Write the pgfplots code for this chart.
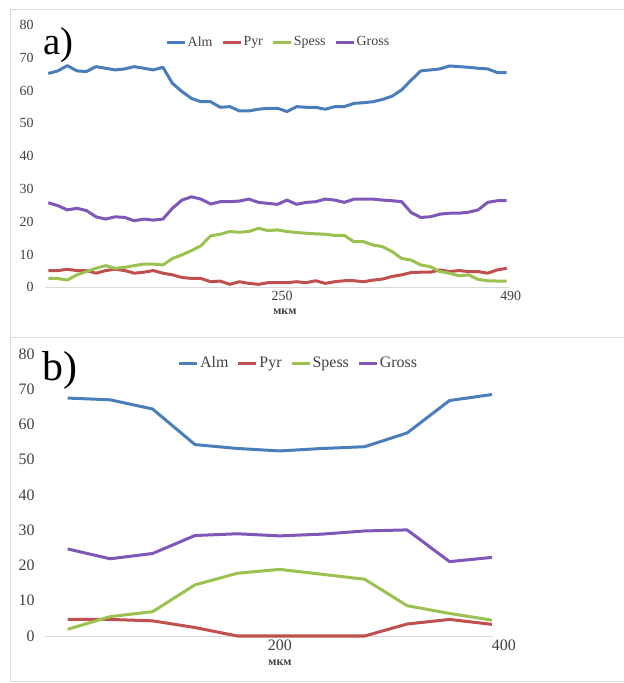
\documentclass[border=0pt]{standalone}
\usepackage{fontspec}
\setmainfont{Liberation Serif}
\usepackage{pgfplots}
\usepackage{pgfplotstable}
\pgfplotsset{compat=1.18}
\definecolor{calm}{HTML}{4A7EBB}
\definecolor{cpyr}{HTML}{C0504D}
\definecolor{cspe}{HTML}{9BC150}
\definecolor{cgro}{HTML}{7E57B8}
\definecolor{ctxt}{HTML}{404040}
\definecolor{cframe}{HTML}{D9D9D9}

\pgfplotstableread{
x Alm Pyr Spess Gross
0 65.2 5.1 2.7 25.8
10.2 66.0 5.1 2.7 24.9
20.4 67.6 5.5 2.2 23.6
30.6 66.0 5.1 3.8 24.1
40.8 65.8 5.1 4.8 23.4
51.0 67.3 4.3 5.8 21.5
61.3 66.8 5.1 6.6 20.8
71.5 66.3 5.5 5.8 21.5
81.7 66.6 5.1 6.1 21.3
91.9 67.3 4.3 6.6 20.3
102.1 66.8 4.6 7.1 20.8
112.3 66.3 5.1 7.1 20.5
122.5 67.1 4.3 6.8 20.8
132.7 62.2 3.8 8.8 24.1
142.9 59.7 3.0 9.9 26.6
153.1 57.6 2.7 11.2 27.6
163.3 56.6 2.7 12.7 26.9
173.5 56.6 1.7 15.7 25.4
183.75 54.9 1.9 16.2 26.1
194.0 55.1 0.9 17.0 26.1
204.2 53.8 1.7 16.8 26.3
214.4 53.8 1.2 17.0 26.9
224.6 54.3 0.9 18.0 25.9
234.8 54.6 1.4 17.3 25.6
245.0 54.6 1.4 17.5 25.3
255.2 53.6 1.4 17.0 26.6
265.4 55.1 1.7 16.7 25.3
275.6 54.9 1.4 16.5 25.9
285.8 54.9 2.0 16.3 26.1
296.0 54.3 1.2 16.2 26.9
306.25 55.1 1.7 15.8 26.6
316.5 55.1 2.0 15.8 25.9
326.7 56.1 2.0 13.9 26.9
336.9 56.3 1.7 13.9 26.9
347.1 56.6 2.2 12.9 26.9
357.3 57.3 2.5 12.4 26.6
367.5 58.3 3.3 10.9 26.4
377.7 60.2 3.8 8.8 26.1
387.9 63.2 4.5 8.3 22.8
398.1 66.0 4.6 6.8 21.3
408.3 66.3 4.6 6.3 21.5
418.5 66.6 5.3 4.8 22.3
428.75 67.5 4.8 4.3 22.6
439.0 67.3 5.1 3.5 22.6
449.2 67.1 4.8 3.8 22.9
459.4 66.8 4.8 2.4 23.6
469.6 66.6 4.3 2.0 25.9
479.8 65.5 5.3 1.9 26.4
490 65.5 5.8 1.9 26.4
}\dataA

\pgfplotstableread{
x Alm Pyr Spess Gross
0 67.5 4.7 1.9 24.7
40 67.0 4.7 5.5 21.9
80 64.4 4.3 6.9 23.4
120 54.3 2.4 14.5 28.5
160 53.2 0 17.8 29.0
200 52.5 0 18.9 28.4
240 53.2 0 17.5 28.9
280 53.7 0 16.1 29.8
320 57.6 3.4 8.6 30.1
360 66.8 4.7 6.4 21.1
400 68.5 3.3 4.5 22.3
}\dataB

\pgfplotsset{
  panel/.style={
    scale only axis,
    axis lines*=left,
    y axis line style={draw=none},
    x axis line style={draw=cframe, line width=0.8bp},
    ymin=0, ymax=80, ytick={0,10,...,80},
    major tick length=0,
    /pgf/number format/assume math mode=true,
    tick label style={text=ctxt},
    every axis plot/.append style={line width=3bp, line join=round, no markers},
    legend columns=4,
    legend image code/.code={\draw[##1, line width=3bp] (0bp,0bp) -- (18bp,0bp);},
    legend style={draw=none, fill=none, text=ctxt, anchor=center,
      nodes={inner xsep=1.5bp},
      /tikz/every even column/.append style={column sep=7bp}},
    clip=false,
  }
}

\begin{document}
\begin{tikzpicture}
\useasboundingbox (0bp,0bp) rectangle (624bp,683bp);
\draw[cframe, line width=0.8bp] (630bp,674bp) -- (10bp,674bp) -- (10bp,346bp) -- (630bp,346bp);
\draw[cframe, line width=0.8bp] (10bp,346bp) -- (10bp,2bp) -- (630bp,2bp);

% panel a
\begin{axis}[panel,
  at={(45bp,395.7bp)}, anchor=south west,
  width=465bp, height=262.3bp,
  xmin=-3.5, xmax=493.5,
  xtick={250}, extra x ticks={490},
  extra x tick style={xticklabel style={xshift=4bp}},
  tick label style={font=\fontsize{14}{16}\selectfont},
  yticklabel style={xshift=-8bp},
  xlabel={мкм},
  xlabel style={at={(axis description cs:0.516,-0.094)}, anchor=center,
    font=\bfseries\fontsize{12}{14}\selectfont, text=ctxt},
  legend style={at={(0.501,0.935)}, font=\fontsize{14}{16}\selectfont},
]
\addplot[calm] table[x=x,y=Alm]{\dataA};
\addplot[cpyr] table[x=x,y=Pyr]{\dataA};
\addplot[cspe] table[x=x,y=Spess]{\dataA};
\addplot[cgro] table[x=x,y=Gross]{\dataA};
\legend{Alm,Pyr,Spess,Gross}
\end{axis}
\node[anchor=base west, inner sep=0, font=\fontsize{39}{39}\selectfont] at (43bp,628bp) {a)};

% panel b
\begin{axis}[panel,
  at={(45bp,47bp)}, anchor=south west,
  width=448bp, height=282bp,
  xmin=-21.4, xmax=401,
  xtick={200}, extra x ticks={400},
  extra x tick style={xticklabel style={xshift=12bp}},
  tick label style={font=\fontsize{16}{18}\selectfont},
  yticklabel style={xshift=-7bp},
  xlabel={мкм},
  xlabel style={at={(axis description cs:0.5246,-0.0957)}, anchor=center,
    font=\bfseries\fontsize{12}{14}\selectfont, text=ctxt},
  legend style={at={(0.565,0.968)}, font=\fontsize{16}{18}\selectfont},
]
\addplot[calm] table[x=x,y=Alm]{\dataB};
\addplot[cpyr] table[x=x,y=Pyr]{\dataB};
\addplot[cspe] table[x=x,y=Spess]{\dataB};
\addplot[cgro] table[x=x,y=Gross]{\dataB};
\legend{Alm,Pyr,Spess,Gross}
\end{axis}
\node[anchor=base west, inner sep=0, font=\fontsize{42}{42}\selectfont] at (42bp,302bp) {b)};
\end{tikzpicture}
\end{document}
